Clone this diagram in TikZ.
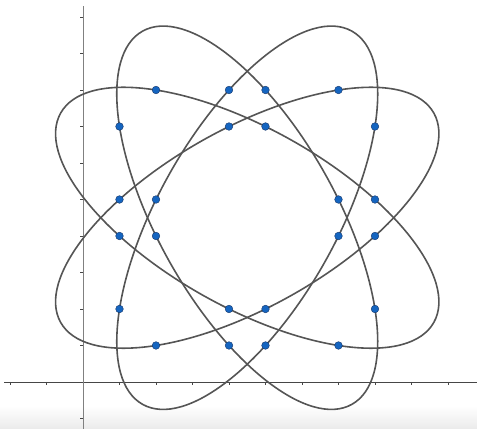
\documentclass[tikz,border=0pt]{standalone}
\usepackage{tikz}
\usetikzlibrary{positioning}
\definecolor{axisgrey}{RGB}{70,70,70}
\definecolor{curvegrey}{RGB}{85,85,85}
\definecolor{dotblue}{RGB}{21,101,192}
\definecolor{dotedge}{RGB}{20,50,100}

\begin{document}
\begin{tikzpicture}[
  axis/.style={axisgrey, line width=0.6pt},
  yaxis/.style={black!50, line width=0.6pt},
  tick/.style={axisgrey, line width=0.4pt},
  orbit/.style={curvegrey, line width=1.25pt},
  dot/.style={circle, fill=dotblue, draw=dotedge, line width=0.3pt,
              inner sep=0pt, minimum size=0.21cm}
]
\useasboundingbox (-2.274,-1.288) rectangle (10.795,10.466);

% ── faded band at the bottom ──
\shade[top color=white, bottom color=black!8, draw=none]
  (-2.274,-1.288) rectangle (10.795,-0.65);

% ── axes and ticks ──
\draw[axis]  (-2.16,0) -- (10.795,0);
\draw[yaxis] (0,10.30) -- (0,-1.288);
\foreach \t in {-2,-1,1,2,...,10}
  \draw[tick] (\t,0) -- (\t,-0.07);
\foreach \t in {-1,1,2,...,10}
  \draw[tick] (0,\t) -- (-0.07,\t);

% ── centre of the four ellipses ──
\coordinate (c) at (4.5,4.5);

% ── ellipses 19u^2 +- 36uv + 41v^2 = 306 and swapped ──
\foreach \ang in {-29.285, 29.285, -60.715, 60.715}
  \draw[orbit, rotate around={\ang:(c)}]
    (c) ellipse [x radius=5.862, y radius=2.447];

% ── intersection points ──
\foreach \px/\py in {1/2,1/4,1/5,1/7,2/1,2/4,2/5,2/8,
                     4/1,4/2,4/7,4/8,5/1,5/2,5/7,5/8,
                     7/1,7/4,7/5,7/8,8/2,8/4,8/5,8/7}
  \node[dot] (p\px\py) at (\px,\py) {};

\end{tikzpicture}
\end{document}
